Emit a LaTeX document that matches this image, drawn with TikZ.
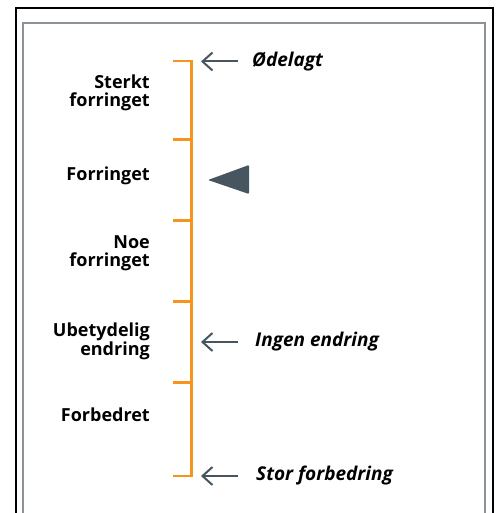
\documentclass[tikz,border=0pt]{standalone}
\usepackage{fontspec}
\setmainfont{Open Sans}
\usetikzlibrary{arrows.meta}
\definecolor{scaleor}{HTML}{F7941D}
\definecolor{slate}{HTML}{46555F}
\definecolor{framegray}{HTML}{8C9398}
\begin{document}
\begin{tikzpicture}[x=1pt,y=-1pt,
  lab/.style={font=\bfseries\fontsize{18}{18.5}\selectfont, align=right, anchor=base east, inner sep=0pt, text=black},
  ilab/.style={font=\bfseries\itshape\fontsize{19}{19}\selectfont, anchor=base west, inner sep=0pt, text=black},
  pointer/.style={draw=slate, line width=2pt, -{Straight Barb[length=10pt,width=18pt,line width=2pt]}},
  scaleline/.style={draw=scaleor, line width=2.5pt}]
\useasboundingbox (0,0) rectangle (495,513);
% frames
\draw[black, line width=2pt] (15.5,530) -- (15.5,8) -- (492.5,8) -- (492.5,530);
\draw[framegray, line width=2pt] (23,530) -- (23,23) -- (485,23) -- (485,530);
% scale
\coordinate (s0) at (191.7,61);
\coordinate (s5) at (191.7,476);
\draw[scaleline, line join=miter] (173,61) -- (s0) -- (s5) -- (173,476);
\foreach \yy/\nm in {139.5/s1,220.5/s2,301.5/s3,382.5/s4}{
  \coordinate (\nm) at (191.7,\yy);
  \draw[scaleline] (173,\yy) -- (\nm);
}
% left labels (anchor at baseline of last line)
\node[lab] (l1) at (150,106.7) {Sterkt\\forringet};
\node[lab] (l2) at (150,180.7) {Forringet};
\node[lab] (l3) at (150,266.7) {Noe\\forringet};
\node[lab] (l4) at (150,355) {Ubetydelig\\endring};
\node[lab] (l5) at (150,421.7) {Forbedret};
% right labels with arrows
\node[ilab] (r1) at (252,66.5) {Ødelagt};
\node[ilab] (r2) at (255,346.5) {Ingen endring};
\node[ilab] (r3) at (256,480.5) {Stor forbedring};
\coordinate (a1s) at (238,61.5);
\coordinate (a1e) at (201,61.5);
\coordinate (a2s) at (238,342);
\coordinate (a2e) at (201,342);
\coordinate (a3s) at (238,476);
\coordinate (a3e) at (201,476);
\draw[pointer] (a1s) -- (a1e);
\draw[pointer] (a2s) -- (a2e);
\draw[pointer] (a3s) -- (a3e);
% marker triangle
\fill[slate, rounded corners=1pt] (208,180) -- (249,165) -- (249,194) -- cycle;
\end{tikzpicture}
\end{document}
